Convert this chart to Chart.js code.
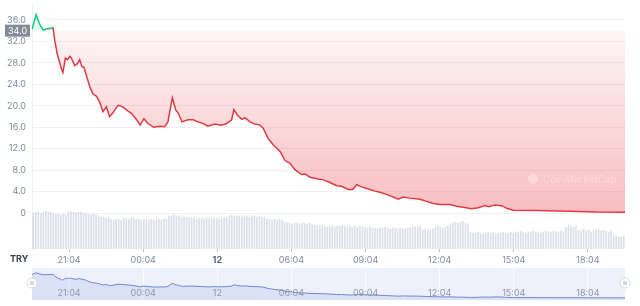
<!DOCTYPE html>
<html lang="en">
<head>
<meta charset="UTF-8">
<title>Price chart</title>
<script src="https://cdn.jsdelivr.net/npm/chart.js"></script>
<style>
  html, body { margin: 0; padding: 0; background: #fff; }
  #wrap { position: relative; width: 640px; height: 306px; }
  #mainBox { position: absolute; left: 0; top: 0; width: 640px; height: 268px; }
  #navBox { position: absolute; left: 0; top: 268px; width: 640px; height: 38px; }
</style>
</head>
<body>
<div id="wrap">
  <div id="mainBox"><canvas id="mainChart" width="640" height="268"></canvas></div>
  <div id="navBox"><canvas id="navChart" width="640" height="38"></canvas></div>
</div>
<script>
// hours since 19:34 on the 11th
const priceHours = [0.00, 0.17, 0.31, 0.45, 0.58, 0.81, 0.85, 0.92, 1.02, 1.19, 1.25, 1.35, 1.43, 1.53, 1.59, 1.73, 1.83, 1.93, 2.02, 2.10,
  2.20, 2.34, 2.47, 2.60, 2.74, 2.87, 3.01, 3.14, 3.28, 3.48, 3.68, 3.89, 4.02, 4.22, 4.38, 4.53, 4.69, 4.93, 5.17, 5.37,
  5.50, 5.68, 5.82, 5.91, 6.07, 6.31, 6.52, 6.72, 6.92, 7.12, 7.39, 7.66, 7.88, 8.08, 8.17, 8.31, 8.49, 8.62, 8.82, 9.02,
  9.23, 9.36, 9.56, 9.77, 10.04, 10.24, 10.44, 10.64, 10.91, 11.05, 11.25, 11.52, 11.79, 12.06, 12.33, 12.53, 12.80, 12.98, 13.14, 13.34,
  13.61, 13.88, 14.08, 14.35, 14.62, 14.82, 15.03, 15.30, 15.70, 15.97, 16.24, 16.51, 16.92, 17.19, 17.45, 17.79, 18.06, 18.33, 18.47, 18.74,
  19.01, 19.21, 19.48, 20.42, 21.77, 22.85, 24.00];
const prices = [34.3, 37.0, 35.2, 34.1, 34.3, 34.5, 34.6, 32.2, 29.7, 26.9, 26.2, 28.9, 28.6, 29.2, 28.9, 27.5, 27.8, 28.6, 27.3, 27.2,
  25.7, 23.5, 22.2, 21.8, 20.7, 18.9, 19.8, 18.0, 18.7, 20.1, 19.8, 19.0, 18.6, 17.5, 16.4, 17.6, 16.7, 16.0, 16.2, 16.1,
  17.0, 21.5, 19.2, 18.7, 17.0, 17.4, 17.4, 17.0, 16.7, 16.2, 16.6, 16.4, 16.7, 17.4, 19.3, 18.3, 17.5, 17.8, 17.0, 16.6,
  16.4, 15.8, 13.9, 12.7, 11.5, 9.8, 9.3, 8.1, 7.2, 7.3, 6.7, 6.4, 6.2, 5.7, 5.1, 5.0, 4.4, 4.4, 5.3, 4.9,
  4.5, 4.1, 3.9, 3.5, 3.0, 2.6, 3.0, 2.8, 2.6, 2.2, 1.8, 1.6, 1.6, 1.3, 1.1, 0.8, 1.0, 1.4, 1.2, 1.5,
  1.4, 0.9, 0.55, 0.5, 0.37, 0.2, 0.15];
const volume = [36, 37, 37, 36, 37, 38, 37, 37, 36, 35, 35, 34, 35, 34, 37, 38, 37, 36, 37, 37, 36,
  35, 35, 34, 35, 34, 33, 32, 32, 31, 32, 30, 29, 30, 30, 29, 31, 31, 30, 31, 31, 30,
  30, 29, 30, 30, 29, 30, 29, 30, 30, 29, 30, 30, 33, 33, 34, 33, 33, 32, 33,
  32, 31, 31, 31, 30, 31, 31, 30, 31, 31, 30, 31, 31, 30, 31, 31, 31,
  33, 34, 33, 33, 33, 32, 33, 33, 32, 33, 33, 32, 33, 32, 32, 30, 30, 29, 30, 29, 30, 29,
  27, 26, 26, 25, 26, 26, 25, 26, 26, 25, 26, 25,
  24, 23, 23, 24, 23, 22, 23, 23, 22, 23, 23, 24, 23, 22, 23, 22, 23, 22, 23, 22, 22,
  21, 22, 21, 21, 20, 21, 21, 22, 21, 20, 21, 21, 20, 21, 21, 20, 21, 21, 22, 22, 22, 23,
  19, 20, 19, 19, 20, 22, 23, 22, 21, 22, 23, 25, 26, 27, 26, 27, 28, 26, 25,
  17, 16, 16, 17, 16, 15, 16, 17, 16, 16, 15, 16, 16, 17, 16, 16,
  17, 16, 17, 17, 18, 17, 16, 17, 17, 18, 17, 17, 16, 17, 18, 17, 17, 18, 17, 17, 18, 17,
  22, 24, 23, 22, 23, 19, 18, 20, 18, 19, 17, 18, 19, 20, 18, 19, 18, 17, 18, 14, 13, 12, 12, 13];
const tickHours = [1.5, 4.5, 7.5, 10.5, 13.5, 16.5, 19.5, 22.5];
const tickLabels = ['21:04', '00:04', '12', '06:04', '09:04', '12:04', '15:04', '18:04'];
const yTicks = [0, 4, 8, 12, 16, 20, 24, 28, 32, 36];
const baseline = 34.0;
const currency = 'TRY';

const green = '#16c784';
const red = '#e03a45';
const grey = '#808a9d';
const fontFamily = 'Inter, "Noto Sans", sans-serif';

const pricePoints = priceHours.map((h, i) => ({ x: h, y: prices[i] }));
const volPoints = volume.map((v, i) => ({ x: (i + 0.5) * 24 / volume.length, y: v }));

const mainCanvas = document.getElementById('mainChart');
const ctx = mainCanvas.getContext('2d');
const redFill = ctx.createLinearGradient(0, 29, 0, 212);
redFill.addColorStop(0, 'rgba(234,57,67,0.05)');
redFill.addColorStop(1, 'rgba(234,57,67,0.33)');

const overlay = {
    id: 'overlay',
    afterDraw(chart) {
        const c = chart.ctx;
        const y = chart.scales.y;
        const by = y.getPixelForValue(baseline);
        c.save();
        // baseline badge
        c.fillStyle = '#858b96';
        c.fillRect(5, by - 6, 25, 12);
        c.fillStyle = '#fff';
        c.font = '9px ' + fontFamily;
        c.textAlign = 'center';
        c.textBaseline = 'middle';
        c.fillText(baseline.toFixed(1), 17.5, by + 0.5);
        // currency
        c.fillStyle = '#3a3f4b';
        c.font = 'bold 9px ' + fontFamily;
        c.textAlign = 'left';
        c.fillText(currency, 10, 259);
        // watermark
        c.fillStyle = 'rgba(255,255,255,0.3)';
        c.beginPath();
        c.arc(533, 179, 5, 0, Math.PI * 2);
        c.fill();
        c.font = '10px ' + fontFamily;
        c.fillText('CoinMarketCap', 543, 179.5);
        c.restore();
    }
};

new Chart(mainCanvas, {
    type: 'line',
    data: {
        datasets: [{
            type: 'line',
            data: pricePoints,
            yAxisID: 'y',
            borderWidth: 1.5,
            pointRadius: 0,
            tension: 0,
            borderColor: red,
            segment: {
                borderColor: s => (s.p0.parsed.y >= baseline && s.p1.parsed.y >= baseline) ? green : red
            },
            fill: { value: baseline, above: 'rgba(22,199,132,0.12)', below: redFill },
            order: 1
        }, {
            type: 'bar',
            data: volPoints,
            yAxisID: 'vol',
            backgroundColor: 'rgba(205,210,222,0.7)',
            barThickness: 1,
            order: 2
        }]
    },
    options: {
        responsive: false,
        animation: false,
        layout: { padding: { top: 4, right: 15, left: 0, bottom: 0 } },
        plugins: { legend: { display: false }, tooltip: { enabled: false } },
        scales: {
            x: {
                type: 'linear',
                min: 0,
                max: 24,
                offset: false,
                afterBuildTicks: s => { s.ticks = tickHours.map(v => ({ value: v })); },
                afterFit: s => { s.height = 19; s.paddingLeft = 0; s.paddingRight = 0; },
                border: { display: false },
                grid: { drawOnChartArea: false, tickLength: 3, color: '#b8bdc7', offset: false },
                ticks: {
                    padding: 3,
                    maxRotation: 0,
                    autoSkip: false,
                    color: c => tickLabels[c.index] === '12' ? '#58667e' : grey,
                    font: c => ({ family: fontFamily, size: 9, weight: tickLabels[c.index] === '12' ? 'bold' : 'normal' }),
                    callback: (v, i) => tickLabels[i]
                }
            },
            y: {
                position: 'left',
                min: -6.68,
                max: 38.97,
                afterBuildTicks: s => { s.ticks = yTicks.map(v => ({ value: v })); },
                afterFit: s => { s.width = 32; s.paddingTop = 0; s.paddingBottom = 0; },
                border: { display: true, color: '#eef0f3' },
                grid: { color: '#eff1f4', drawTicks: false },
                ticks: {
                    padding: 6,
                    color: grey,
                    font: { family: fontFamily, size: 9 },
                    callback: v => v === 0 ? '0' : v.toFixed(1)
                }
            },
            vol: {
                display: false,
                min: 0,
                max: 246
            }
        }
    },
    plugins: [overlay]
});

const navDecor = {
    id: 'navDecor',
    beforeDraw(chart) {
        const a = chart.chartArea;
        const c = chart.ctx;
        c.save();
        c.fillStyle = '#eef1fb';
        c.fillRect(a.left, a.top, a.right - a.left, a.bottom - a.top);
        c.restore();
    },
    afterDraw(chart) {
        const a = chart.chartArea;
        const c = chart.ctx;
        const x = chart.scales.x;
        c.save();
        c.font = '9px ' + fontFamily;
        c.fillStyle = '#8e97a8';
        c.textAlign = 'center';
        c.textBaseline = 'middle';
        tickHours.forEach((h, i) => c.fillText(tickLabels[i], x.getPixelForValue(h), 25.5));
        // handles
        [a.left, a.right].forEach(px => {
            c.fillStyle = '#fff';
            c.strokeStyle = '#d5d9e2';
            c.beginPath();
            c.arc(px, 15, 5, 0, Math.PI * 2);
            c.fill();
            c.stroke();
            c.strokeStyle = '#a8afbd';
            c.beginPath();
            c.moveTo(px - 1, 13); c.lineTo(px - 1, 17);
            c.moveTo(px + 1, 13); c.lineTo(px + 1, 17);
            c.stroke();
        });
        c.restore();
    }
};

new Chart(document.getElementById('navChart'), {
    type: 'line',
    data: {
        datasets: [{
            data: pricePoints,
            borderColor: '#6e88d6',
            borderWidth: 1,
            pointRadius: 0,
            tension: 0,
            fill: 'start',
            backgroundColor: 'rgba(150,170,230,0.2)'
        }]
    },
    options: {
        responsive: false,
        animation: false,
        layout: { padding: { top: 0, right: 15, left: 32, bottom: 6 } },
        plugins: { legend: { display: false }, tooltip: { enabled: false } },
        scales: {
            x: {
                type: 'linear',
                min: 0,
                max: 24,
                afterBuildTicks: s => { s.ticks = tickHours.map(v => ({ value: v })); },
                afterFit: s => { s.height = 0; },
                border: { display: false },
                grid: { color: 'rgba(255,255,255,0.7)', drawTicks: false },
                ticks: { display: false }
            },
            y: {
                display: false,
                min: -3,
                max: 44
            }
        }
    },
    plugins: [navDecor]
});
</script>
</body>
</html>
